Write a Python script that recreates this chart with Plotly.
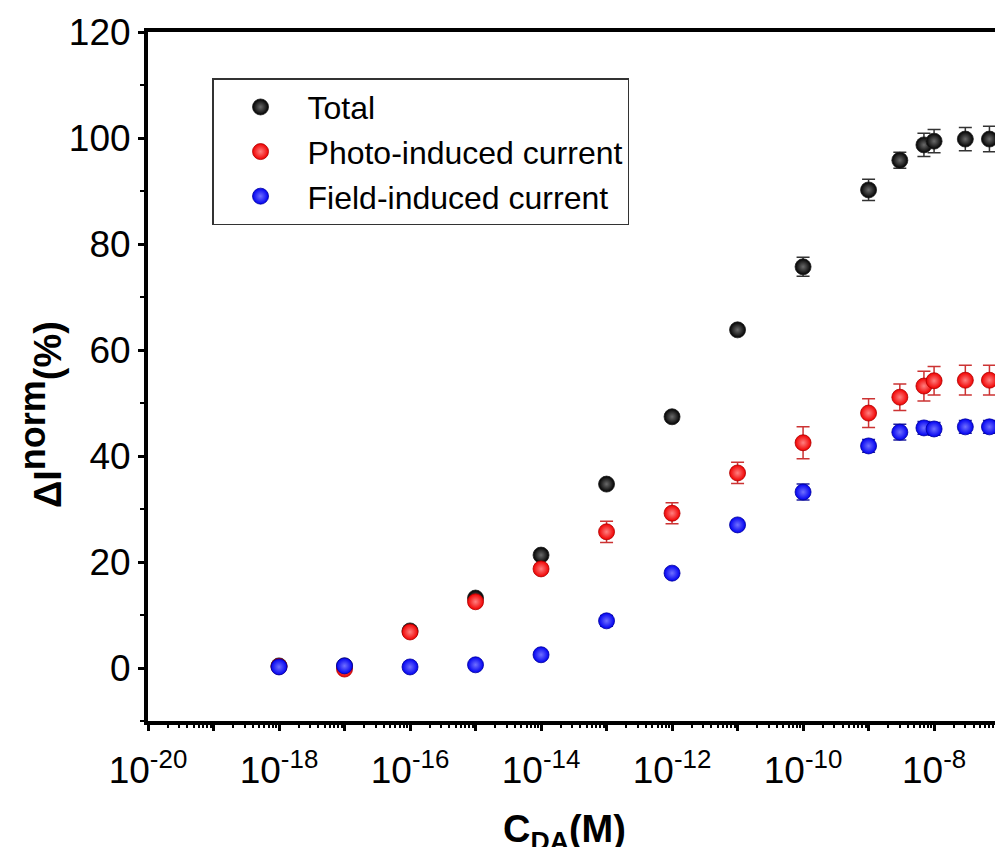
import numpy as np
import plotly.graph_objects as go

# ---- data ----
conc = [1e-18, 1e-17, 1e-16, 1e-15, 1e-14, 1e-13, 1e-12, 1e-11, 1e-10,
        1e-9, 3e-9, 7e-9, 1e-8, 3e-8, 7e-8]
total = [0.4, 0.4, 7.0, 13.2, 21.3, 34.7, 47.4, 63.8, 75.7,
         90.2, 95.8, 98.7, 99.4, 99.8, 99.8]
total_err = [0.4, 0.4, 0.8, 0.8, 0.8, 0.8, 0.8, 0.8, 1.8,
             2.0, 1.5, 2.2, 2.2, 2.2, 2.4]
photo = [0.3, -0.2, 6.8, 12.5, 18.7, 25.7, 29.2, 36.8, 42.5,
         48.1, 51.1, 53.2, 54.2, 54.3, 54.3]
photo_err = [0.4, 0.5, 0.8, 0.8, 0.8, 2.0, 2.0, 2.0, 3.0,
             2.7, 2.5, 2.8, 2.7, 2.8, 2.8]
field = [0.2, 0.4, 0.2, 0.6, 2.5, 8.9, 17.9, 27.0, 33.2,
         41.9, 44.5, 45.3, 45.1, 45.5, 45.5]
field_err = [0.3, 0.3, 0.3, 0.3, 0.4, 1.0, 0.8, 0.8, 1.5,
             1.2, 1.5, 1.2, 1.2, 1.2, 1.2]

series_names = ["Total", "Photo-induced current", "Field-induced current"]
major_exp = list(range(-20, -6))
x_labels = {e: f"10<sup>{e}</sup>" for e in major_exp if e % 2 == 0}
y_ticks = [0, 20, 40, 60, 80, 100, 120]
y_minor = [-10, 10, 30, 50, 70, 90, 110]
x_title = "<b>C<sub>DA</sub>(M)</b>"
y_title = '<b>ΔI<sup><span style="font-size:36px">norm</span></sup>(%)</b>'

FONT = "Liberation Sans, Arial, sans-serif"

fig = go.Figure()
styles = [
    (total, total_err, "#000000", "#6a6a6a", "#202020", "#333333"),
    (photo, photo_err, "#f00000", "#ff8080", "#b00000", "#cc3333"),
    (field, field_err, "#0000f0", "#7070ff", "#0000a0", "#2020a0"),
]
for name, (vals, errs, col, hl, edge, ecol) in zip(series_names, styles):
    fig.add_trace(go.Scatter(
        x=conc, y=vals, mode="markers", name=name,
        marker=dict(size=16, color=col,
                    gradient=dict(type="radial", color=hl),
                    line=dict(width=0.8, color=edge)),
        error_y=dict(type="data", array=errs, visible=True,
                     color=ecol, thickness=1.5, width=6.5),
    ))

tickvals = [10.0 ** e for e in major_exp]
ticktext = [x_labels.get(e, "") for e in major_exp]
minor_vals = [m * 10.0 ** e for e in major_exp for m in range(2, 10)]

fig.update_layout(
    width=995, height=847,
    margin=dict(l=148, r=0, t=32, b=126),
    paper_bgcolor="white", plot_bgcolor="white",
    font=dict(family=FONT, color="black"),
    showlegend=True,
    legend=dict(
        x=0.0756, y=0.933, xanchor="left", yanchor="top",
        bordercolor="#333333", borderwidth=1.5,
        font=dict(size=32, family=FONT, color="black"),
        itemwidth=84, bgcolor="white",
    ),
    xaxis=dict(
        type="log", range=[-20, -7.07], automargin=False,
        showline=True, linewidth=4, linecolor="black", mirror=True,
        showgrid=False, zeroline=False,
        ticks="outside", ticklen=6, tickwidth=3, tickcolor="black",
        tickvals=tickvals, ticktext=ticktext,
        tickfont=dict(size=37, family=FONT),
        ticklabelstandoff=8,
        minor=dict(tickvals=minor_vals, ticks="outside", ticklen=3,
                   tickwidth=2, tickcolor="black", showgrid=False),
    ),
    yaxis=dict(
        range=[-10, 120], automargin=False,
        showline=True, linewidth=4, linecolor="black", mirror=False,
        showgrid=False, zeroline=False,
        ticks="outside", ticklen=6, tickwidth=3, tickcolor="black",
        tickvals=y_ticks,
        tickfont=dict(size=37, family=FONT),
        minor=dict(tickvals=y_minor, ticks="outside",
                   ticklen=4, tickwidth=2, tickcolor="black", showgrid=False),
    ),
    annotations=[
        dict(text=y_title, xref="paper", yref="paper", x=-0.1275, y=0.444,
             xanchor="center", yanchor="middle", textangle=-90,
             showarrow=False, font=dict(size=38, family=FONT, color="black")),
        dict(text=x_title, xref="paper", yref="paper", x=0.492, y=-0.124,
             xanchor="center", yanchor="top",
             showarrow=False, font=dict(size=38, family=FONT, color="black")),
    ],
)

fig.write_html("out.html")
